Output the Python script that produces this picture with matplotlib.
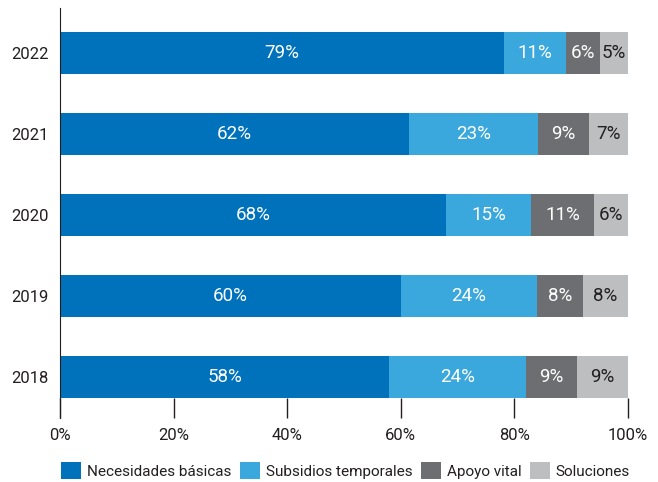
import matplotlib.pyplot as plt
import numpy as np

years = ["2018", "2019", "2020", "2021", "2022"]
categories = ["Necesidades básicas", "Subsidios temporales", "Apoyo vital", "Soluciones"]
necesidades = [58, 60, 68, 62, 79]
subsidios = [24, 24, 15, 23, 11]
apoyo = [9, 8, 11, 9, 6]
soluciones = [9, 8, 6, 7, 5]

colors = ["#0072BC", "#3AA8DC", "#6D6E71", "#BCBEC0"]
text_colors = ["white", "white", "white", "#231F20"]

plt.rcParams['font.family'] = ['Roboto', 'DejaVu Sans']

data = np.array([necesidades, subsidios, apoyo, soluciones], dtype=float)
totals = data.sum(axis=0)
shares = data / totals * 100

fig = plt.figure(figsize=(6.58, 4.82), dpi=100)
ax = fig.add_axes([0.0912, 0.1328, 0.8632, 0.8506])

y = np.arange(len(years))
left = np.zeros(len(years))
for i in range(len(categories)):
    ax.barh(y, shares[i], left=left, height=0.53, color=colors[i], label=categories[i])
    for j in range(len(years)):
        ax.text(left[j] + shares[i][j] / 2, y[j], str(int(data[i][j])) + "%",
                ha='center', va='center', color=text_colors[i], fontsize=13.5)
    left = left + shares[i]

ax.set_xlim(0, 100)
ax.set_ylim(-0.506, 4.556)
ax.set_yticks(y)
ax.set_yticklabels(years, fontsize=12, color="#231F20")
ax.set_xticks([0, 20, 40, 60, 80, 100])
ax.set_xticklabels(["0%", "20%", "40%", "60%", "80%", "100%"], fontsize=12, color="#231F20")
ax.tick_params(axis='y', length=0, pad=8)
ax.tick_params(axis='x', direction='in', length=14.5, width=1, color="#231F20", pad=7)
for s in ['top', 'right', 'bottom']:
    ax.spines[s].set_visible(False)
ax.spines['left'].set_color("#231F20")

fig.legend(loc='lower center', bbox_to_anchor=(0.525, -0.022), ncol=4, frameon=False,
           fontsize=11, handlelength=1.3, handleheight=1.3, handletextpad=0.4,
           columnspacing=0.55, labelcolor="#231F20")

fig.savefig("out.png", dpi=100)
